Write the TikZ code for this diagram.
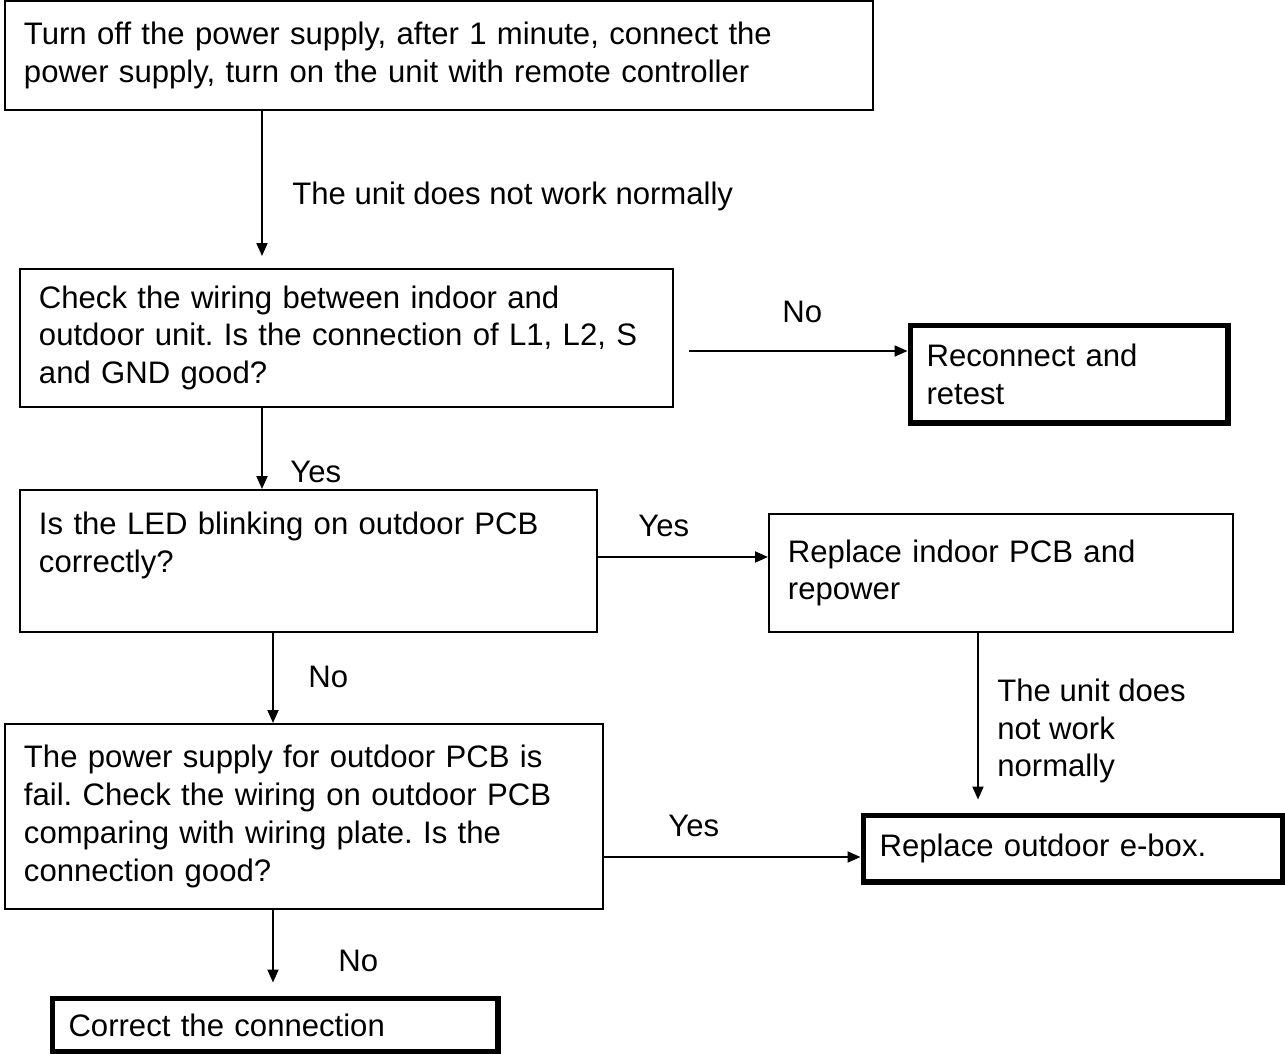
\documentclass[tikz,border=0pt]{standalone}
\usepackage{fontspec}
\setmainfont{Liberation Sans}
\usetikzlibrary{arrows.meta,positioning,calc}
\frenchspacing

\begin{document}
\begin{tikzpicture}[
  x=0.02cm, y=-0.02cm,
  every node/.style={font=\fontsize{17.7}{21.6}\selectfont},
  box/.style={draw, line width=1.1pt, align=left, anchor=north west,
              inner xsep=0.38cm, inner ysep=0pt, fill=white},
  endbox/.style={box, line width=2.9pt, inner xsep=0.33cm},
  lbl/.style={anchor=west, inner sep=0pt, align=left},
  arr/.style={-{Triangle[length=0.26cm, width=0.22cm]}, line width=1.1pt}
]
\useasboundingbox[fill=white] (0,0) rectangle (1285,1054);

%% question boxes
\node[box, minimum width=17.36cm, text width=16.60cm, minimum height=2.18cm]
  (top) at (4,0)
  {Turn off the power supply, after 1 minute, connect the\\
   power supply, turn on the unit with remote controller};
\node[box, minimum width=13.06cm, text width=12.30cm, minimum height=2.76cm]
  (wire) at (19,268)
  {Check the wiring between indoor and\\
   outdoor unit. Is the connection of L1, L2, S\\
   and GND good?};
\node[box, minimum width=11.54cm, text width=10.78cm, minimum height=2.84cm]
  (led) at (19,489)
  {Is the LED blinking on outdoor PCB\\correctly?\\ \mbox{}};
\node[box, minimum width=9.28cm, text width=8.52cm, minimum height=2.36cm]
  (indoor) at (768,513)
  {Replace indoor PCB and\\repower};
\node[box, minimum width=11.96cm, text width=11.20cm, minimum height=3.70cm]
  (power) at (4,723)
  {The power supply for outdoor PCB is\\
   fail. Check the wiring on outdoor PCB\\
   comparing with wiring plate. Is the\\
   connection good?};

%% end boxes
\node[endbox, minimum width=6.36cm, text width=5.70cm, minimum height=1.96cm]
  (reconnect) at (907.5,322.5) {Reconnect and\\retest};
\node[endbox, minimum width=8.40cm, text width=7.74cm, minimum height=1.34cm]
  (ebox) at (860.5,812.5) {Replace outdoor e-box.};
\node[endbox, minimum width=8.92cm, text width=8.26cm, minimum height=1.08cm]
  (correct) at (49.5,995.5) {Correct the connection};

%% connectors
\draw[arr, shorten >=0.24cm] (top.south -| 262,0) -- (wire.north -| 262,0);
\draw[arr, shorten <=0.30cm] (wire.east |- 0,351) -- (reconnect.west |- 0,351);
\draw[arr] (wire.south -| 262,0) -- (led.north -| 262,0);
\draw[arr] (led.east |- 0,557) -- (indoor.west |- 0,557);
\draw[arr] (led.south -| 273,0) -- (power.north -| 273,0);
\draw[arr, shorten >=0.26cm] (indoor.south -| 978,0) -- (ebox.north -| 978,0);
\draw[arr] (power.east |- 0,857) -- (ebox.west |- 0,857);
\draw[arr, shorten >=0.26cm] (power.south -| 273,0) -- (correct.north -| 273,0);

%% labels
\node[lbl] (lnotwork)  at (292,196) {The unit does not work normally};
\node[lbl] (lno1)      at (782,312) {No};
\node[lbl] (lyes1)     at (290,472) {Yes};
\node[lbl] (lyes2)     at (638,526) {Yes};
\node[lbl] (lno2)      at (308,677) {No};
\node[lbl] (lnotwork2) at (997,731) {The unit does\\not work\\normally};
\node[lbl] (lyes3)     at (668,826) {Yes};
\node[lbl] (lno3)      at (338,961) {No};

\end{tikzpicture}
\end{document}
